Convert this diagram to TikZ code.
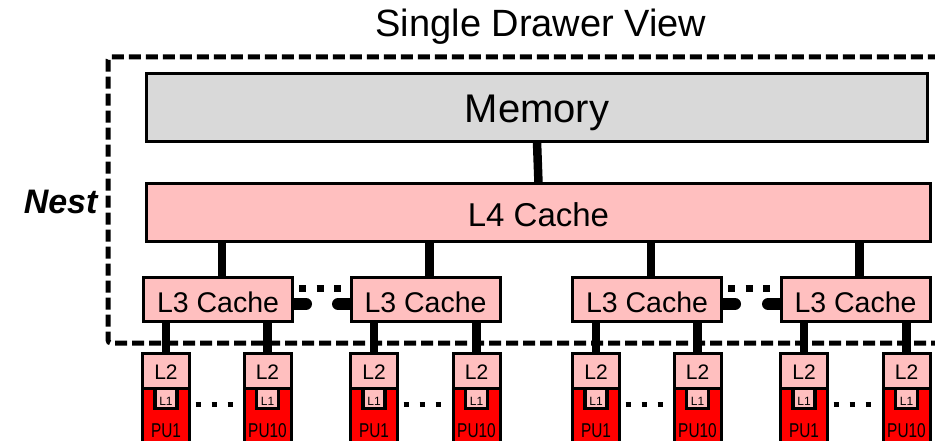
\documentclass[tikz,border=0pt]{standalone}
\usepackage{fontspec}
\setmainfont{Liberation Sans}
\newfontfamily\narrowsans[FakeStretch=0.77]{Liberation Sans}
\usetikzlibrary{positioning,calc,backgrounds}
\definecolor{memcol}{RGB}{217,217,217}
\definecolor{cachecol}{RGB}{255,191,191}
\definecolor{pucol}{RGB}{255,0,0}
\newcommand{\fsz}[1]{\fontsize{#1}{#1}\selectfont}
\tikzset{
  % common look of every level box
  hbox/.style={rectangle, draw=black, line width=3pt, inner sep=0pt, outer sep=0pt, text depth=0pt},
  % memory bar
  membox/.style={hbox, fill=memcol, minimum width=781pt, minimum height=68pt, text height=31pt, font=\fsz{40}},
  % L4 bar
  l4box/.style={hbox, fill=cachecol, minimum width=784pt, minimum height=58pt, text height=27pt, font=\fsz{33}},
  % L3 boxes
  l3box/.style={hbox, fill=cachecol, minimum width=149pt, minimum height=44pt, text height=25pt, font=\fsz{28.5}},
  % L2 on top of each core
  l2box/.style={hbox, fill=cachecol, minimum width=47pt, minimum height=35pt, text height=16pt, font=\fsz{21}},
  % core body
  pubox/.style={hbox, fill=pucol, minimum width=47pt, minimum height=71pt, text height=27pt, font=\narrowsans\fsz{20}},
  % L1 inside the core
  l1box/.style={hbox, line width=3.5pt, fill=cachecol, minimum width=22pt, minimum height=20pt, text height=13pt, font=\fsz{12}},
  % thick links
  bus/.style={line width=8.5pt},
  % side link between L3 boxes
  stub/.style={line width=12pt, line cap=round},
  % row of square dots
  dotrow/.style={line width=#1, dash pattern=on #1 off 10.5pt},
  dotrow/.default={6pt},
  % drawer frame
  nestframe/.style={line width=5pt, dash pattern=on 12pt off 5pt, rounded corners=3pt},
}

\begin{document}
\begin{tikzpicture}[x=1pt,y=-1pt]
  \useasboundingbox (0,0) rectangle (935,441);
  \node[font=\fsz{38}, anchor=base] (title) at (541,37) {Single Drawer View};
  \node[font=\fsz{34}\bfseries\itshape, anchor=base east] (nest) at (101,214) {Nest};
  \draw[nestframe] (960,343) -| (108,57) -- (960,57);

  \node[membox] (mem) at (537,107.5) {Memory};
  \node[l4box] (l4) at (538.5,212.5) {L4 Cache};
  \node[l3box] (l3a) at (218,299.5) {L3 Cache};
  \node[l3box] (l3b) at (425.5,299.5) {L3 Cache};
  \node[l3box] (l3c) at (647,299.5) {L3 Cache};
  \node[l3box] (l3d) at (855.5,299.5) {L3 Cache};

  % cores: L2 over PU with L1 inside
  \foreach \i/\x/\n in {1/166/PU1, 2/267.5/PU10, 3/374/PU1, 4/476.5/PU10,
                        5/596/PU1, 6/697.5/PU10, 7/804/PU1, 8/906.5/PU10} {
    \node[l2box] (l2\i) at (\x,371) {L2};
    \node[pubox, below=0pt of l2\i] (pu\i) {\n};
    \node[l1box, anchor=north] (l1\i) at (pu\i.north) {L1};
  }

  \begin{scope}[on background layer]
    \draw[bus] (mem.south) -- (l4.north);
    \foreach \j in {a,b,c,d}
      \draw[bus] ($(l3\j.north)+(4,0)$) -- ($(l4.south -| l3\j.north)+(4,0)$);
    \foreach \j/\i in {a/1, a/2, b/3, b/4, c/5, c/6, d/7, d/8}
      \draw[bus] (l2\i.north) -- (l2\i.north |- l3\j.south);
    \foreach \j/\k in {a/b, c/d} {
      \draw[stub] ($(l3\j.east)+(0,4.5)$) -- ++(13.5,0);
      \draw[stub] ($(l3\k.west)+(0,4.5)$) -- ++(-13,0);
    }
  \end{scope}

  \foreach \j/\k in {a/b, c/d}
    \draw[dotrow=7pt] ($(l3\j.north east)+(6.5,10.5)$) -- ($(l3\k.north west)+(-6,10.5)$);
  \foreach \i/\k in {1/2, 3/4, 5/6, 7/8}
    \draw[dotrow=5.5pt] ($(pu\i.north east)+(6,16)$) -- ($(pu\k.north west)+(-6,16)$);
\end{tikzpicture}
\end{document}
